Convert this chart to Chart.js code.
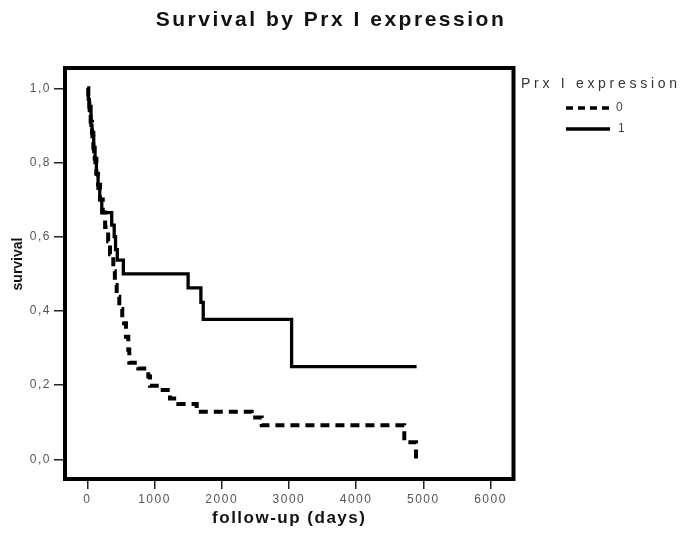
<!DOCTYPE html>
<html>
<head>
<meta charset="utf-8">
<script src="https://cdn.jsdelivr.net/npm/chart.js@4.4.1/dist/chart.umd.min.js"></script>
<style>
    html, body { margin: 0; padding: 0; background: #fff; }
</style>
</head>
<body>
<canvas id="kmChart" width="685" height="537"></canvas>
<script>
// Kaplan-Meier 曲线数据
const groupLabels = ['0', '1'];

// Prx I expression = 0 (虚线)
const days0 = [0, 15, 30, 50, 70, 90, 110, 135, 160, 190, 230, 265, 310, 338, 387, 410, 437, 476, 520, 546,
               575, 610, 625, 759, 908, 933, 1082, 1231, 1354, 1628, 2446, 2595, 4717, 4891];
const surv0 = [1.0, 0.97, 0.95, 0.91, 0.88, 0.84, 0.81, 0.77, 0.74, 0.70, 0.665, 0.626, 0.588, 0.553, 0.507, 0.47, 0.438, 0.405, 0.38, 0.367,
               0.33, 0.295, 0.26, 0.245, 0.223, 0.198, 0.187, 0.164, 0.149, 0.128, 0.113, 0.092, 0.046, 0.0];

// Prx I expression = 1 (实线)
const days1 = [0, 15, 30, 55, 70, 95, 115, 135, 160, 185, 215, 363, 400, 420, 446, 536, 1500, 1690, 1725, 3040, 4900];
const surv1 = [1.0, 0.97, 0.94, 0.90, 0.87, 0.83, 0.80, 0.77, 0.73, 0.70, 0.665, 0.631, 0.60, 0.565, 0.537, 0.50, 0.462, 0.423, 0.377, 0.25, 0.25];

const xTickValues = [0, 1000, 2000, 3000, 4000, 5000, 6000];
const yTickValues = [0, 0.2, 0.4, 0.6, 0.8, 1.0];
const yTickLabels = ['0,0', '0,2', '0,4', '0,6', '0,8', '1,0'];

const FONT = '"Liberation Sans", Arial, sans-serif';

// 按目标宽度绘制带字间距的文字
function drawSpaced(ctx, text, x, y, width, align) {
    ctx.letterSpacing = '0px';
    const w = ctx.measureText(text).width;
    const sp = Math.max(0, (width - w) / (text.length - 1));
    ctx.letterSpacing = sp + 'px';
    ctx.textAlign = align || 'center';
    ctx.fillText(text, x, y);
}

const framePlugin = {
    id: 'framePlugin',
    beforeDraw(chart) {
        chart.ctx.letterSpacing = '1.5px';
    },
    afterDraw(chart) {
        const ctx = chart.ctx;
        const a = chart.chartArea;
        ctx.save();
        // 外框
        ctx.strokeStyle = '#000';
        ctx.lineWidth = 4;
        ctx.strokeRect(a.left, a.top, a.right - a.left, a.bottom - a.top);

        // 标题
        ctx.fillStyle = '#111';
        ctx.font = 'bold 21px ' + FONT;
        ctx.textBaseline = 'alphabetic';
        drawSpaced(ctx, 'Survival by Prx I expression', 331, 26, 348);

        // y 轴标题
        ctx.save();
        ctx.translate(18, 264);
        ctx.rotate(-Math.PI / 2);
        ctx.font = 'bold 14px ' + FONT;
        ctx.textBaseline = 'middle';
        drawSpaced(ctx, 'survival', 0, 0, 50);
        ctx.restore();

        // 图例
        ctx.fillStyle = '#333';
        ctx.font = '14px ' + FONT;
        ctx.textBaseline = 'alphabetic';
        drawSpaced(ctx, 'Prx I expression', 521, 88, 156, 'left');

        const items = [
            { y: 108, x2: 613, dash: [7, 5] },
            { y: 129, x2: 610, dash: [] }
        ];
        items.forEach((it, i) => {
            const ds = chart.data.datasets[i];
            ctx.strokeStyle = ds.borderColor;
            ctx.lineWidth = 3.5;
            ctx.setLineDash(it.dash);
            ctx.beginPath();
            ctx.moveTo(566, it.y);
            ctx.lineTo(it.x2, it.y);
            ctx.stroke();
            ctx.setLineDash([]);
            ctx.fillStyle = '#444';
            ctx.font = '12px ' + FONT;
            ctx.textBaseline = 'middle';
            ctx.letterSpacing = '0px';
            ctx.textAlign = 'left';
            ctx.fillText(groupLabels[i], it.x2 + (i === 0 ? 3 : 8), it.y);
        });
        ctx.restore();
    }
};

const ctx = document.getElementById('kmChart');

new Chart(ctx, {
    type: 'line',
    data: {
        datasets: [{
            label: groupLabels[0],
            data: days0.map((d, i) => ({ x: d, y: surv0[i] })),
            borderColor: '#000',
            borderWidth: 4,
            borderDash: [9, 6],
            stepped: true,
            pointRadius: 0,
            fill: false
        }, {
            label: groupLabels[1],
            data: days1.map((d, i) => ({ x: d, y: surv1[i] })),
            borderColor: '#000',
            borderWidth: 3.3,
            stepped: true,
            pointRadius: 0,
            fill: false
        }]
    },
    options: {
        responsive: false,
        animation: false,
        devicePixelRatio: 1,
        layout: {
            padding: { left: 0, right: 171.5, top: 68, bottom: 0 }
        },
        plugins: {
            legend: { display: false },
            title: { display: false },
            tooltip: { enabled: false }
        },
        scales: {
            x: {
                type: 'linear',
                min: -332,
                max: 6342,
                afterBuildTicks: s => { s.ticks = xTickValues.map(v => ({ value: v })); },
                afterFit: s => { s.height = 58; },
                ticks: {
                    color: '#555',
                    font: { size: 12, family: FONT },
                    padding: 3,
                    maxRotation: 0,
                    autoSkip: false,
                    callback: v => String(v)
                },
                grid: {
                    drawOnChartArea: false,
                    drawTicks: true,
                    tickLength: 10,
                    color: '#222',
                    lineWidth: 1.5
                },
                border: { display: false },
                title: {
                    display: true,
                    text: 'follow-up (days)',
                    color: '#111',
                    font: { size: 17, weight: 'bold', family: FONT },
                    padding: { top: 0, bottom: 8 }
                }
            },
            y: {
                type: 'linear',
                min: -0.0531,
                max: 1.0547,
                afterBuildTicks: s => { s.ticks = yTickValues.map(v => ({ value: v })); },
                afterFit: s => { s.width = 65; },
                ticks: {
                    color: '#555',
                    font: { size: 12, family: FONT },
                    padding: 3,
                    callback: v => yTickLabels[yTickValues.indexOf(Math.round(v * 10) / 10)]
                },
                grid: {
                    drawOnChartArea: false,
                    drawTicks: true,
                    tickLength: 11,
                    color: '#222',
                    lineWidth: 1.5
                },
                border: { display: false }
            }
        }
    },
    plugins: [framePlugin]
});
</script>
</body>
</html>
